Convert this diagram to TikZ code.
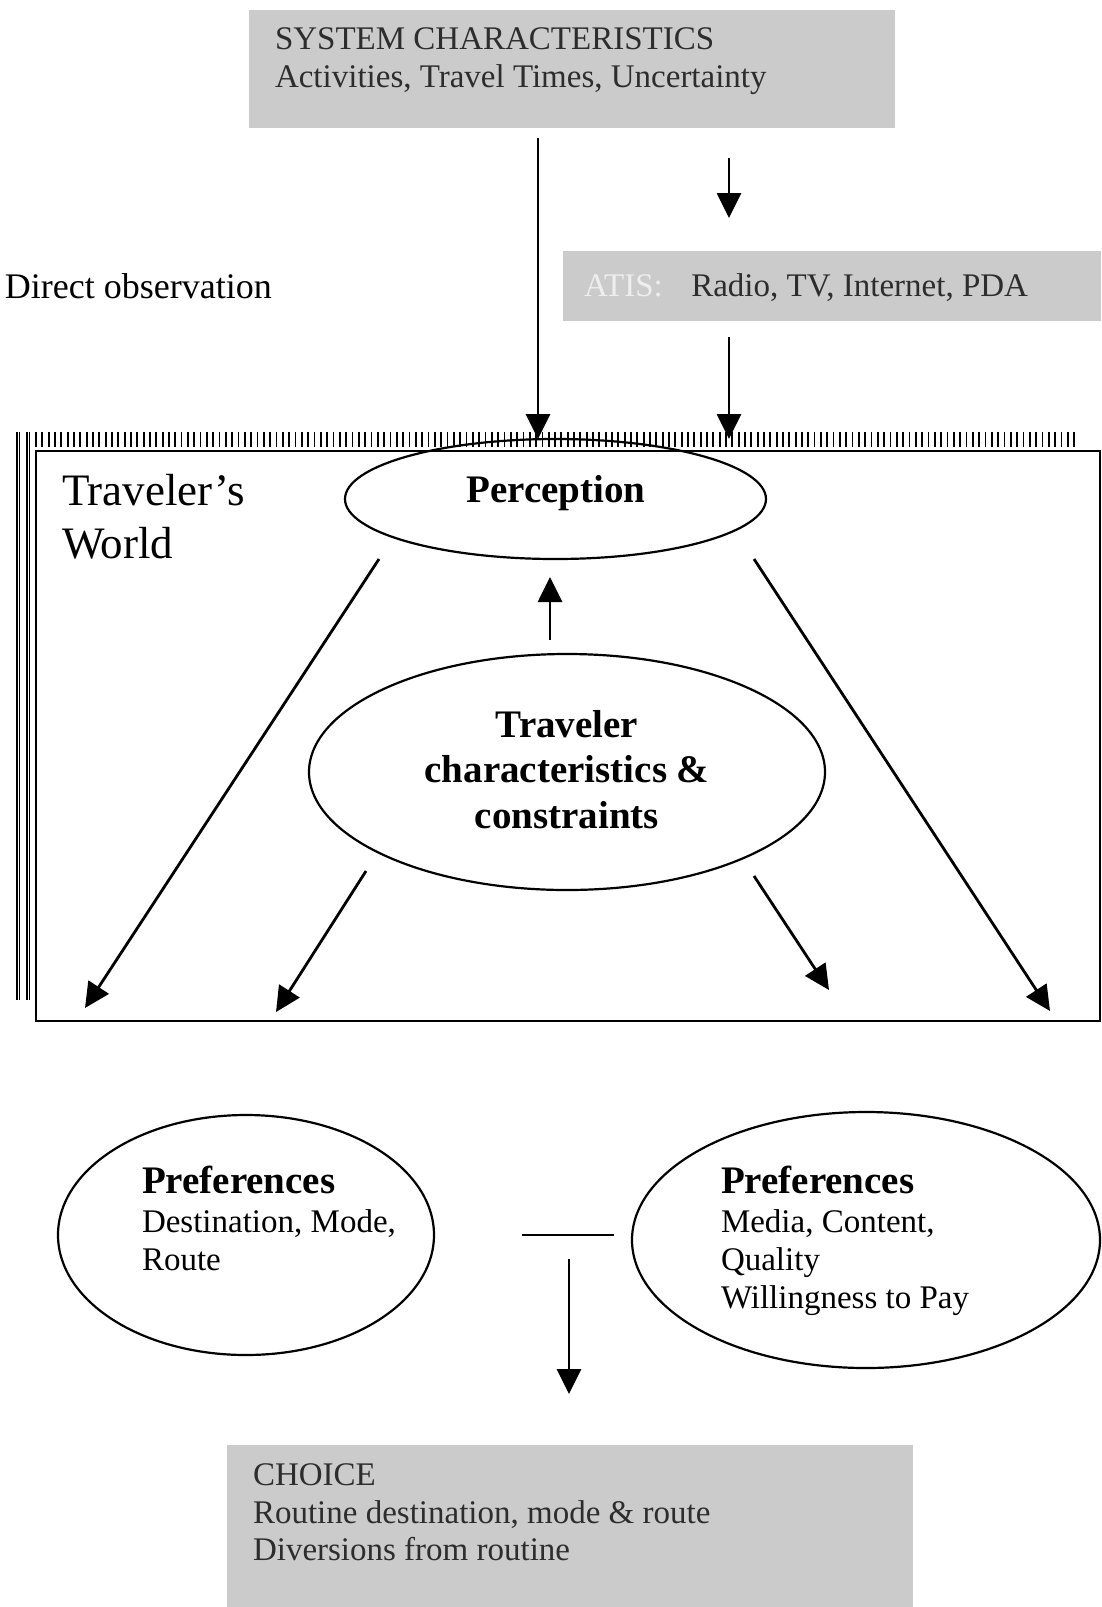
\documentclass[tikz,border=0pt]{standalone}
\usepackage{fontspec}
\setmainfont{Liberation Serif}
\usetikzlibrary{arrows.meta,shapes.geometric}
\definecolor{boxgray}{RGB}{203,203,203}
\definecolor{boxtext}{RGB}{45,45,45}
\definecolor{atiscol}{RGB}{238,238,238}
\tikzset{
  graybox/.style={draw=none, fill=boxgray, inner sep=0pt, outer sep=0pt, anchor=north west},
  txt/.style={anchor=base west, inner sep=0pt, outer sep=0pt, font=\fontsize{33}{38}\selectfont},
  gtxt/.style={txt, text=boxtext},
  btxt/.style={txt, font=\fontsize{39}{46}\selectfont\bfseries},
  ell/.style={draw, ellipse, line width=2.2pt, inner sep=0pt},
  arr/.style={line width=2.8pt, -{Triangle[length=25pt,width=24pt]}},
  hatchline/.style={line width=1.8pt},
}
\begin{document}
\begin{tikzpicture}[x=1pt, y=-1pt]
\useasboundingbox (0,0) rectangle (1101,1607);

% top box
\node[graybox, minimum width=646pt, minimum height=118pt] (sys) at (249,10) {};
\node[gtxt] (sys1) at (275,49) {SYSTEM CHARACTERISTICS};
\node[gtxt] (sys2) at (275,87) {Activities, Travel Times, Uncertainty};

% ATIS box
\node[graybox, minimum width=538pt, minimum height=70pt] (atis) at (563,251) {};
\node[txt, text=atiscol] (atis1) at (584,296) {ATIS:};
\node[gtxt, anchor=base east] (atis2) at (1028,296) {Radio, TV, Internet, PDA};

% direct observation
\node[txt, font=\fontsize{36}{42}\selectfont] (direct) at (5,298) {Direct observation};

% traveler's world frame
\foreach \i in {0,...,164} \draw[hatchline] ({36+\i*6.33},432) -- ++(0,15);
\foreach \xx in {17,19.5,27,29.5} \draw[line width=1.4pt] (\xx,432) -- (\xx,1000);
\draw[line width=2.5pt] (1100,451) -- (36,451) -- (36,1021) -- (1100,1021) -- cycle;

\node[txt, font=\fontsize{45}{53}\selectfont] (tw1) at (62,505) {Traveler’s};
\node[txt, font=\fontsize{45}{53}\selectfont] (tw2) at (62,558) {World};

% perception
\node[ell, minimum width=421pt, minimum height=120pt] (per) at (555.5,499) {};
\node[btxt, anchor=center] (pertxt) at (556,493) {Perception};

% traveler characteristics
\node[ell, minimum width=516pt, minimum height=236pt] (tc) at (567,772) {};
\node[btxt, anchor=center] (tc1) at (567,724) {Traveler};
\node[btxt, anchor=center] (tc2) at (567,769) {characteristics \&};
\node[btxt, anchor=center] (tc3) at (567,815) {constraints};

% preferences
\node[ell, minimum width=376pt, minimum height=240pt] (prefL) at (246,1235) {};
\node[btxt] (pl1) at (142,1193) {Preferences};
\node[txt] (pl2) at (142,1232) {Destination, Mode,};
\node[txt] (pl3) at (142,1270) {Route};

\node[ell, minimum width=468pt, minimum height=256pt] (prefR) at (866,1240) {};
\node[btxt] (pr1) at (721,1193) {Preferences};
\node[txt] (pr2) at (721,1232) {Media, Content,};
\node[txt] (pr3) at (721,1270) {Quality};
\node[txt] (pr4) at (721,1308) {Willingness to Pay};

% choice
\node[graybox, minimum width=686pt, minimum height=162pt] (choice) at (227,1445) {};
\node[gtxt] (ch1) at (253,1485) {CHOICE};
\node[gtxt] (ch2) at (253,1523) {Routine destination, mode \& route};
\node[gtxt] (ch3) at (253,1560) {Diversions from routine};

% connector coordinates
\coordinate (a1s) at (538,138);
\coordinate (a1e) at (538,439);
\coordinate (a2s) at (729,158);
\coordinate (a2e) at (729,218);
\coordinate (a3s) at (729,337);
\coordinate (a3e) at (729,439);
\coordinate (ups) at (550,640);
\coordinate (upe) at (550,577);
\coordinate (das) at (379,559);
\coordinate (dae) at (85,1008);
\coordinate (dbs) at (754,559);
\coordinate (dbe) at (1050,1011);
\coordinate (dcs) at (366,871);
\coordinate (dce) at (276,1012);
\coordinate (dds) at (754,876);
\coordinate (dde) at (829,990);
\coordinate (dns) at (569,1259);
\coordinate (dne) at (569,1394);

\draw[arr] (a1s) -- (a1e);
\draw[arr] (a2s) -- (a2e);
\draw[arr] (a3s) -- (a3e);
\draw[arr] (ups) -- (upe);
\draw[arr] (das) -- (dae);
\draw[arr] (dbs) -- (dbe);
\draw[arr] (dcs) -- (dce);
\draw[arr] (dds) -- (dde);
\draw[arr] (dns) -- (dne);

\draw[line width=2.2pt, shorten <=87pt, shorten >=17pt] (prefL.east) -- (prefL.east -| prefR.west);
\end{tikzpicture}
\end{document}
